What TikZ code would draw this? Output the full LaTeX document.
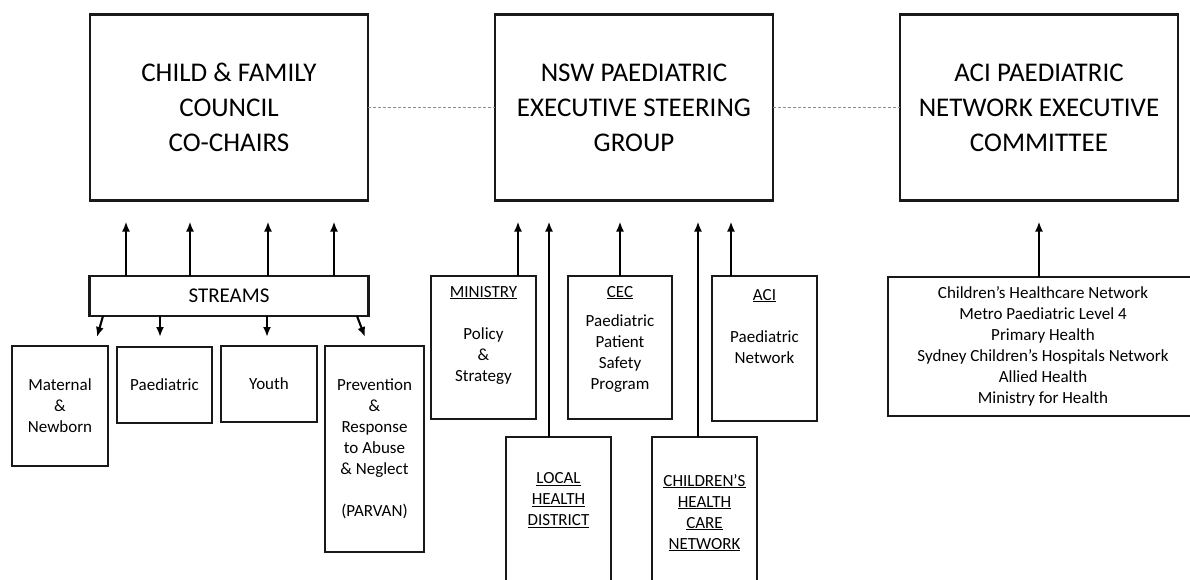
\documentclass[tikz,border=0pt]{standalone}
\usepackage{fontspec}
\setmainfont{Carlito}
\usepackage{tikz}
\usetikzlibrary{arrows,arrows.meta}

\newcommand{\bigtxt}{\fontsize{27}{35}\selectfont}
\newcommand{\midtxt}{\fontsize{21}{25}\selectfont}
\newcommand{\smalltxt}{\fontsize{17}{21}\selectfont}

\begin{document}
\begin{tikzpicture}[->,>={Latex[length=10pt,width=8pt]},x=1pt,y=-1pt,line width=2.1pt,
                    node distance=405pt]
  \tikzstyle{every node}=[draw=black!90,line width=2.1pt,inner sep=0pt,outer sep=0pt,
                          align=center,font=\smalltxt]
  \tikzstyle{head}=[minimum width=278pt,minimum height=186pt,font=\bigtxt]
  \tikzstyle{link}=[-,densely dashed,draw=black!45,line width=0.7pt]

  \useasboundingbox (0,0) rectangle (1190,579);

  % top row
  \node[head] (cfc) at (229,107.5) {CHILD \& FAMILY\\COUNCIL\\CO-CHAIRS};
  \node[head] (nsw) [right of=cfc] {NSW PAEDIATRIC\\EXECUTIVE STEERING\\GROUP};
  \node[head] (aci) [right of=nsw] {ACI PAEDIATRIC\\NETWORK EXECUTIVE\\COMMITTEE};

  % streams
  \node[minimum width=279pt,minimum height=40pt,font=\midtxt] (streams) at (229,296) {STREAMS};
  \node[minimum width=96pt,minimum height=120pt] (mat) at (60,406) {Maternal\\\&\\Newborn};
  \node[minimum width=95pt,minimum height=76pt] (paed) at (164.5,385) {Paediatric};
  \node[minimum width=96pt,minimum height=76pt] (youth) at (269,384) {Youth};
  \node[minimum width=99pt,minimum height=206pt] (parvan) at (374.5,449)
       {Prevention\\\&\\Response\\to Abuse\\\& Neglect\\[21pt](PARVAN)};

  % middle
  \node[minimum width=105pt,minimum height=143pt] (ministry) at (483.5,347.5)
       {\underline{MINISTRY}\\[21pt]Policy\\\&\\Strategy\\[7pt]\mbox{}};
  \node[minimum width=104pt,minimum height=143pt] (cec) at (620,347.5)
       {\underline{CEC}\\[8pt]Paediatric\\Patient\\Safety\\Program\\[-1pt]\mbox{}};
  \node[minimum width=105pt,minimum height=145pt] (acinet) at (764.5,348.5)
       {\underline{ACI}\\[21pt]Paediatric\\Network\\[24pt]\mbox{}};
  \node[minimum width=105pt,minimum height=170pt] (lhd) at (558.5,522)
       {\underline{LOCAL}\\\underline{HEALTH}\\\underline{DISTRICT}\\[25pt]\mbox{}};
  \node[minimum width=105pt,minimum height=170pt] (chcn) at (704.5,522)
       {\underline{CHILDREN'S}\\\underline{HEALTH}\\\underline{CARE}\\\underline{NETWORK}\\\mbox{}};

  % right
  \node[minimum width=310pt,minimum height=139pt] (members) at (1043,346.5)
       {Children's Healthcare Network\\Metro Paediatric Level 4\\Primary Health\\
        Sydney Children's Hospitals Network\\Allied Health\\Ministry for Health};

  \draw[link] (cfc) -- (nsw);
  \draw[link] (nsw) -- (aci);

  \foreach \dx in {-103,-39,39,105}
    \draw ([xshift=\dx pt]streams.north) -- ([xshift=\dx pt,yshift=-21pt]cfc.south);

  \draw ([xshift=-126pt]streams.south) -- ([xshift=37pt,yshift=9pt]mat.north);
  \draw ([xshift=-69pt]streams.south) -- ([xshift=-4.5pt,yshift=10pt]paed.north);
  \draw ([xshift=38pt]streams.south) -- ([xshift=-2pt,yshift=9pt]youth.north);
  \draw ([xshift=128pt]streams.south) -- ([xshift=-9.5pt,yshift=9pt]parvan.north);

  \draw ([xshift=34.5pt]ministry.north) -- ([xshift=-116pt,yshift=-21pt]nsw.south);
  \draw ([xshift=-9.5pt]lhd.north) -- ([xshift=-85pt,yshift=-21pt]nsw.south);
  \draw (cec.north) -- ([xshift=-14pt,yshift=-21pt]nsw.south);
  \draw ([xshift=-6.5pt]chcn.north) -- ([xshift=64pt,yshift=-21pt]nsw.south);
  \draw ([xshift=-33.5pt]acinet.north) -- ([xshift=97pt,yshift=-21pt]nsw.south);
  \draw ([xshift=-4pt]members.north) -- ([yshift=-21pt]aci.south);
\end{tikzpicture}
\end{document}
